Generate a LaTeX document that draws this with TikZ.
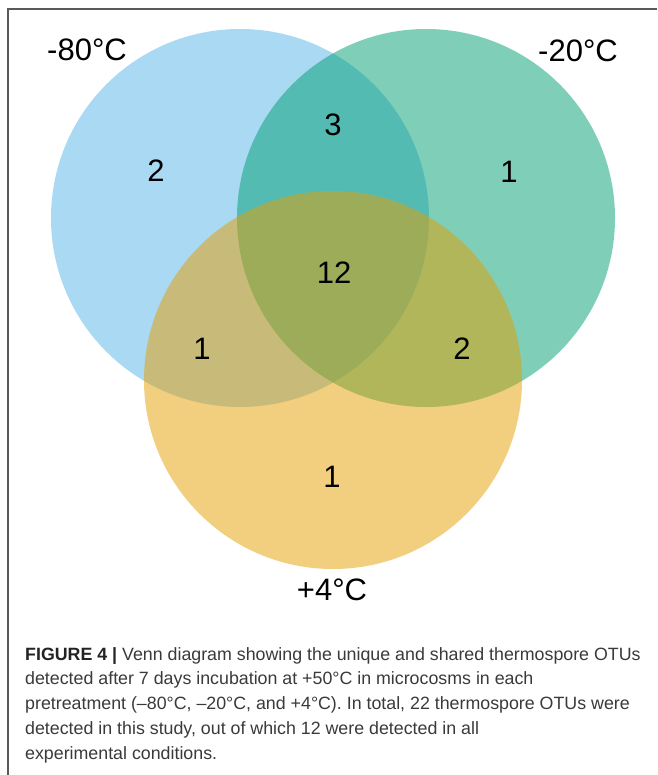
\documentclass[tikz,border=0pt]{standalone}
\usepackage{fontspec}
\setmainfont{Liberation Sans}
\definecolor{vblue}{RGB}{86,180,233}
\definecolor{vgreen}{RGB}{0,158,115}
\definecolor{vorange}{RGB}{230,159,0}
\definecolor{framegray}{RGB}{90,90,90}
\definecolor{captext}{RGB}{58,58,58}
\definecolor{capbold}{RGB}{35,35,35}
\begin{document}
\begin{tikzpicture}[x=1pt,y=-1pt,
  setcircle/.style={circle,minimum size=378pt,inner sep=0pt,fill opacity=0.5,draw=none},
  setlabel/.style={font=\fontsize{31}{37}\selectfont,text=black,inner sep=0pt},
  count/.style={font=\fontsize{31}{37}\selectfont,text=black,inner sep=0pt},
  caption/.style={font=\fontsize{17.8}{24.75}\selectfont,text=captext,align=left,inner sep=0pt,anchor=base west}]
\useasboundingbox (0,0) rectangle (657,775);
\fill[white] (0,0) rectangle (657,775);
% frame (top and left edges)
\coordinate (ftr) at (657,9);
\coordinate (ftl) at (8,9);
\coordinate (fbl) at (8,775);
\draw[framegray,line width=1.4pt] (ftr) -- (ftl) -- (fbl);
% circles
\node[setcircle,fill=vblue] (cblue) at (240,218) {};
\node[setcircle,fill=vgreen] (cgreen) at (426,218) {};
\node[setcircle,fill=vorange] (corange) at (333,380) {};
% set labels
\node[setlabel] (l80) at (87,50) {-80°C};
\node[setlabel] (l20) at (578,51) {-20°C};
\node[setlabel] (l4) at (332,590) {+4°C};
% counts
\node[count] (kb) at (156,171) {2};
\node[count] (kbg) at (333,125) {3};
\node[count] (kg) at (509,172) {1};
\node[count] (kall) at (334,273) {12};
\node[count] (kbo) at (202,349) {1};
\node[count] (kgo) at (462,349) {2};
\node[count] (ko) at (332,477) {1};
% caption (base anchor = baseline of last line)
\node[caption] (cap) at (25,759) {{\bfseries\color{capbold}FIGURE 4 |} Venn diagram showing the unique and shared thermospore OTUs\\
detected after 7 days incubation at +50°C in microcosms in each\\
pretreatment (–80°C, –20°C, and +4°C). In total, 22 thermospore OTUs were\\
detected in this study, out of which 12 were detected in all\\
experimental conditions.};
\end{tikzpicture}
\end{document}
